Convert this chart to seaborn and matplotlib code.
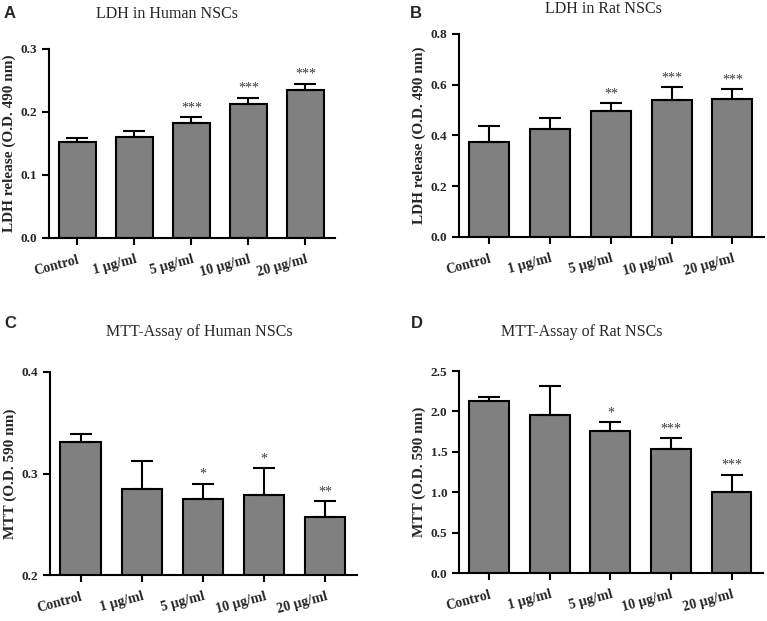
import numpy as np
import pandas as pd
import seaborn as sns
import matplotlib.pyplot as plt

# Data
categories = ['Control', '1 \u00b5g/ml', '5 \u00b5g/ml', '10 \u00b5g/ml', '20 \u00b5g/ml']

ldh_human = [0.153, 0.160, 0.182, 0.212, 0.235]
ldh_human_err = [0.005, 0.010, 0.010, 0.011, 0.010]
ldh_human_sig = ['', '', '***', '***', '***']

ldh_rat = [0.376, 0.426, 0.496, 0.538, 0.542]
ldh_rat_err = [0.061, 0.044, 0.031, 0.052, 0.040]
ldh_rat_sig = ['', '', '**', '***', '***']

mtt_human = [0.331, 0.285, 0.275, 0.279, 0.257]
mtt_human_err = [0.008, 0.027, 0.015, 0.026, 0.016]
mtt_human_sig = ['', '', '*', '*', '**']

mtt_rat = [2.13, 1.95, 1.756, 1.53, 1.003]
mtt_rat_err = [0.05, 0.37, 0.111, 0.135, 0.214]
mtt_rat_sig = ['', '', '*', '***', '***']

sns.set_style('ticks')
plt.rcParams['font.family'] = ['Liberation Serif', 'DejaVu Serif']

W, H = 767, 621
fig = plt.figure(figsize=(W / 100, H / 100), dpi=100)


def px_axes(left, top, right, bottom):
  return fig.add_axes([left / W, 1 - bottom / H, (right - left) / W, (bottom - top) / H])


panels = [
    # letter, title, ylabel, means, errs, sig, ylim, ticks, rect, letter pos, title pos
    ('A', 'LDH in Human NSCs', 'LDH release (O.D. 490 nm)', ldh_human, ldh_human_err,
     ldh_human_sig, (0, 0.3), [0, 0.1, 0.2, 0.3], (49, 49, 335, 238), (4, 14), (167, 14)),
    ('B', 'LDH in Rat NSCs', 'LDH release (O.D. 490 nm)', ldh_rat, ldh_rat_err,
     ldh_rat_sig, (0, 0.8), [0, 0.2, 0.4, 0.6, 0.8], (459, 34, 764, 237), (410, 13), (603, 9)),
    ('C', 'MTT-Assay of Human NSCs', 'MTT (O.D. 590 nm)', mtt_human, mtt_human_err,
     mtt_human_sig, (0.2, 0.4), [0.2, 0.3, 0.4], (50, 372, 357, 575), (4, 323), (199, 332)),
    ('D', 'MTT-Assay of Rat NSCs', 'MTT (O.D. 590 nm)', mtt_rat, mtt_rat_err,
     mtt_rat_sig, (0, 2.5), [0, 0.5, 1.0, 1.5, 2.0, 2.5], (459, 371, 763, 573), (411, 323), (582, 332)),
]

for letter, title, ylabel, means, errs, sig, ylim, ticks, rect, lpos, tpos in panels:
  ax = px_axes(*rect)
  df = pd.DataFrame({'group': categories, 'value': means})
  sns.barplot(data=df, x='group', y='value', color='#808080', saturation=1,
              edgecolor='black', linewidth=1.5, width=0.66, errorbar=None, ax=ax)
  x = np.arange(len(categories))
  ax.errorbar(x, means, yerr=[np.zeros(len(means)), errs], fmt='none',
              ecolor='black', elinewidth=1.5, capsize=8, capthick=1.5, zorder=1)
  for xi, m, e, s in zip(x, means, errs, sig):
    if s:
      ax.annotate(s, (xi, m + e), xytext=(0, 2), textcoords='offset points',
                  ha='center', va='bottom', fontsize=10, color='#3a3a3a')
  ax.set_xlim(-0.5, 4.52)
  ax.set_ylim(*ylim)
  ax.set_yticks(ticks)
  ax.set_yticklabels([f'{t:.1f}' for t in ticks], fontsize=9.5, fontweight='bold')
  ax.set_xticks(x)
  ax.set_xticklabels(categories, fontsize=10, fontweight='bold', rotation=15,
                     ha='right', rotation_mode='anchor')
  ax.set_xlabel('')
  ax.set_ylabel(ylabel, fontsize=11, fontweight='bold', labelpad=3)
  sns.despine(ax=ax)
  for sp in ['left', 'bottom']:
    ax.spines[sp].set_linewidth(1.5)
    ax.spines[sp].set_color('black')
  ax.tick_params(axis='both', width=1.5, length=5, color='black', direction='out')
  ax.tick_params(axis='x', pad=6)
  fig.text(lpos[0] / W, 1 - lpos[1] / H, letter, family='Liberation Sans',
           fontweight='bold', fontsize=12, va='center', ha='left')
  fig.text(tpos[0] / W, 1 - tpos[1] / H, title, fontsize=11.5, va='center', ha='center')

fig.savefig('out.png', dpi=100)
